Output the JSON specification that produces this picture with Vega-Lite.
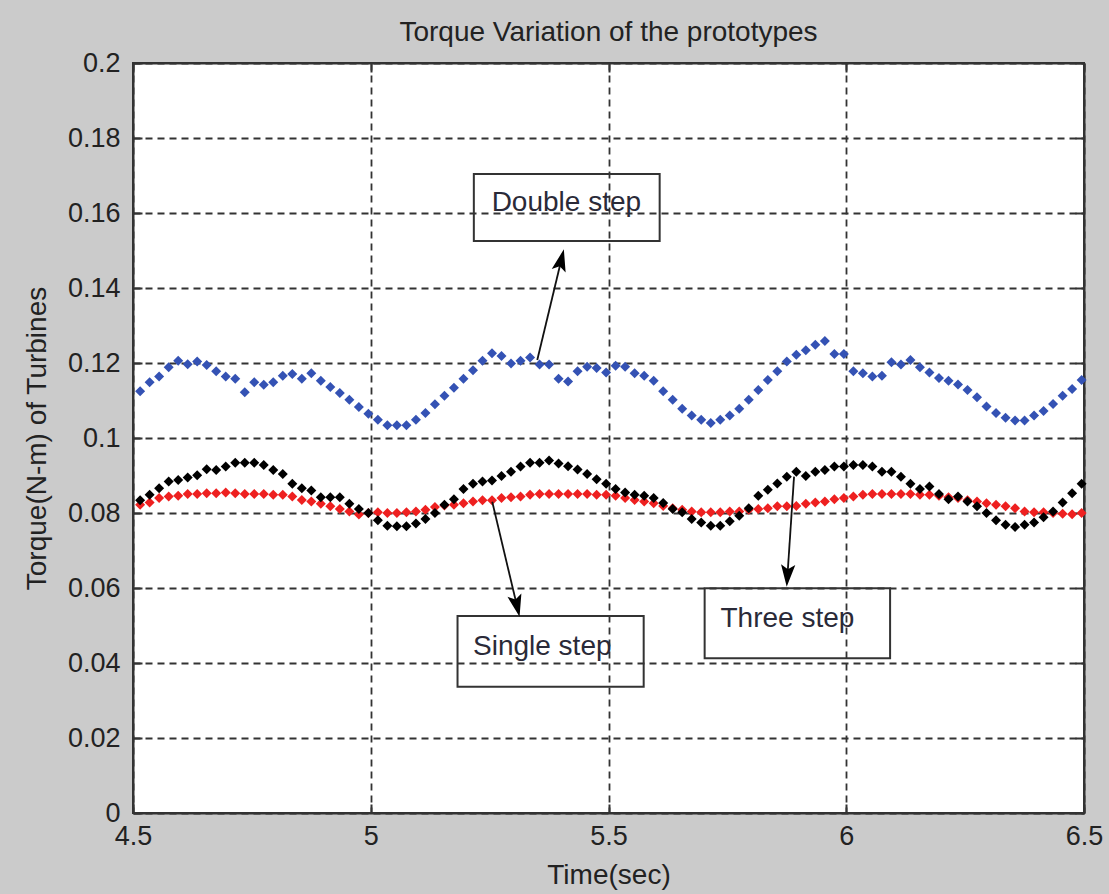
{
  "$schema": "https://vega.github.io/schema/vega-lite/v6.json",
  "width": 951,
  "height": 750,
  "autosize": {"type": "none"},
  "padding": {"left": 133, "top": 63, "right": 25, "bottom": 81},
  "background": "#cbcbcb",
  "title": {
    "text": "Torque Variation of the prototypes",
    "font": "Liberation Sans",
    "fontSize": 28,
    "fontWeight": "normal",
    "color": "#222222",
    "anchor": "middle",
    "offset": 2
  },
  "config": {
    "view": {"fill": "white", "stroke": "#333333", "strokeWidth": 2},
    "axis": {
      "labelFont": "Liberation Sans",
      "titleFont": "Liberation Sans",
      "labelColor": "#222222",
      "titleColor": "#222222",
      "titleFontWeight": "normal",
      "labelFlush": false,
      "labelOverlap": false,
      "labelBound": false,
      "tickSize": -9,
      "tickColor": "#333333",
      "tickWidth": 2,
      "domainColor": "#333333",
      "domainWidth": 2,
      "gridColor": "#333333",
      "gridDash": [7, 5],
      "gridWidth": 1.8,
      "gridOpacity": 1
    }
  },
  "datasets": {
    "torque": [
      {"t": 4.515, "s": 0.0822, "d": 0.1125, "th": 0.0834},
      {"t": 4.535, "s": 0.0828, "d": 0.1149, "th": 0.0849},
      {"t": 4.555, "s": 0.0840, "d": 0.1164, "th": 0.0866},
      {"t": 4.575, "s": 0.0844, "d": 0.1189, "th": 0.0884},
      {"t": 4.595, "s": 0.0846, "d": 0.1206, "th": 0.0888},
      {"t": 4.615, "s": 0.0851, "d": 0.1197, "th": 0.0895},
      {"t": 4.635, "s": 0.0851, "d": 0.1204, "th": 0.0901},
      {"t": 4.655, "s": 0.0853, "d": 0.1195, "th": 0.0917},
      {"t": 4.675, "s": 0.0853, "d": 0.1178, "th": 0.0915},
      {"t": 4.695, "s": 0.0855, "d": 0.1164, "th": 0.0924},
      {"t": 4.715, "s": 0.0853, "d": 0.1158, "th": 0.0934},
      {"t": 4.735, "s": 0.0851, "d": 0.1122, "th": 0.0934},
      {"t": 4.755, "s": 0.0851, "d": 0.1149, "th": 0.0934},
      {"t": 4.775, "s": 0.0851, "d": 0.1142, "th": 0.0928},
      {"t": 4.795, "s": 0.0849, "d": 0.1149, "th": 0.0915},
      {"t": 4.815, "s": 0.0849, "d": 0.1166, "th": 0.0904},
      {"t": 4.835, "s": 0.0844, "d": 0.1171, "th": 0.0878},
      {"t": 4.855, "s": 0.0835, "d": 0.1158, "th": 0.0866},
      {"t": 4.875, "s": 0.0831, "d": 0.1173, "th": 0.0860},
      {"t": 4.895, "s": 0.0825, "d": 0.1153, "th": 0.0842},
      {"t": 4.915, "s": 0.0818, "d": 0.1136, "th": 0.0842},
      {"t": 4.935, "s": 0.0811, "d": 0.1120, "th": 0.0842},
      {"t": 4.955, "s": 0.0804, "d": 0.1102, "th": 0.0825},
      {"t": 4.975, "s": 0.0796, "d": 0.1083, "th": 0.0811},
      {"t": 4.995, "s": 0.0800, "d": 0.1065, "th": 0.0800},
      {"t": 5.015, "s": 0.0802, "d": 0.1049, "th": 0.0781},
      {"t": 5.035, "s": 0.0800, "d": 0.1034, "th": 0.0766},
      {"t": 5.055, "s": 0.0800, "d": 0.1034, "th": 0.0765},
      {"t": 5.075, "s": 0.0802, "d": 0.1034, "th": 0.0765},
      {"t": 5.095, "s": 0.0804, "d": 0.1049, "th": 0.0772},
      {"t": 5.115, "s": 0.0809, "d": 0.1067, "th": 0.0784},
      {"t": 5.135, "s": 0.0816, "d": 0.1090, "th": 0.0800},
      {"t": 5.155, "s": 0.0820, "d": 0.1113, "th": 0.0822},
      {"t": 5.175, "s": 0.0822, "d": 0.1134, "th": 0.0837},
      {"t": 5.195, "s": 0.0826, "d": 0.1158, "th": 0.0864},
      {"t": 5.215, "s": 0.0831, "d": 0.1181, "th": 0.0878},
      {"t": 5.235, "s": 0.0834, "d": 0.1206, "th": 0.0884},
      {"t": 5.255, "s": 0.0834, "d": 0.1226, "th": 0.0887},
      {"t": 5.275, "s": 0.0840, "d": 0.1219, "th": 0.0899},
      {"t": 5.295, "s": 0.0842, "d": 0.1199, "th": 0.0910},
      {"t": 5.315, "s": 0.0844, "d": 0.1206, "th": 0.0924},
      {"t": 5.335, "s": 0.0849, "d": 0.1215, "th": 0.0934},
      {"t": 5.355, "s": 0.0851, "d": 0.1196, "th": 0.0934},
      {"t": 5.375, "s": 0.0851, "d": 0.1196, "th": 0.0940},
      {"t": 5.395, "s": 0.0851, "d": 0.1158, "th": 0.0932},
      {"t": 5.415, "s": 0.0851, "d": 0.1151, "th": 0.0925},
      {"t": 5.435, "s": 0.0851, "d": 0.1178, "th": 0.0916},
      {"t": 5.455, "s": 0.0851, "d": 0.1190, "th": 0.0904},
      {"t": 5.475, "s": 0.0849, "d": 0.1187, "th": 0.0890},
      {"t": 5.495, "s": 0.0849, "d": 0.1175, "th": 0.0878},
      {"t": 5.515, "s": 0.0846, "d": 0.1193, "th": 0.0864},
      {"t": 5.535, "s": 0.0840, "d": 0.1190, "th": 0.0855},
      {"t": 5.555, "s": 0.0835, "d": 0.1173, "th": 0.0849},
      {"t": 5.575, "s": 0.0831, "d": 0.1166, "th": 0.0846},
      {"t": 5.595, "s": 0.0826, "d": 0.1153, "th": 0.0840},
      {"t": 5.615, "s": 0.0819, "d": 0.1125, "th": 0.0827},
      {"t": 5.635, "s": 0.0813, "d": 0.1102, "th": 0.0811},
      {"t": 5.655, "s": 0.0809, "d": 0.1078, "th": 0.0802},
      {"t": 5.675, "s": 0.0804, "d": 0.1060, "th": 0.0784},
      {"t": 5.695, "s": 0.0802, "d": 0.1049, "th": 0.0775},
      {"t": 5.715, "s": 0.0802, "d": 0.1040, "th": 0.0766},
      {"t": 5.735, "s": 0.0802, "d": 0.1049, "th": 0.0766},
      {"t": 5.755, "s": 0.0804, "d": 0.1060, "th": 0.0778},
      {"t": 5.775, "s": 0.0804, "d": 0.1078, "th": 0.0793},
      {"t": 5.795, "s": 0.0809, "d": 0.1102, "th": 0.0813},
      {"t": 5.815, "s": 0.0811, "d": 0.1128, "th": 0.0846},
      {"t": 5.835, "s": 0.0813, "d": 0.1155, "th": 0.0862},
      {"t": 5.855, "s": 0.0818, "d": 0.1178, "th": 0.0879},
      {"t": 5.875, "s": 0.0818, "d": 0.1204, "th": 0.0897},
      {"t": 5.895, "s": 0.0819, "d": 0.1222, "th": 0.0910},
      {"t": 5.915, "s": 0.0825, "d": 0.1234, "th": 0.0899},
      {"t": 5.935, "s": 0.0828, "d": 0.1249, "th": 0.0910},
      {"t": 5.955, "s": 0.0831, "d": 0.1259, "th": 0.0915},
      {"t": 5.975, "s": 0.0837, "d": 0.1224, "th": 0.0924},
      {"t": 5.995, "s": 0.0840, "d": 0.1224, "th": 0.0924},
      {"t": 6.015, "s": 0.0844, "d": 0.1178, "th": 0.0928},
      {"t": 6.035, "s": 0.0849, "d": 0.1173, "th": 0.0928},
      {"t": 6.055, "s": 0.0851, "d": 0.1164, "th": 0.0924},
      {"t": 6.075, "s": 0.0851, "d": 0.1166, "th": 0.0910},
      {"t": 6.095, "s": 0.0851, "d": 0.1202, "th": 0.0910},
      {"t": 6.115, "s": 0.0851, "d": 0.1196, "th": 0.0897},
      {"t": 6.135, "s": 0.0851, "d": 0.1208, "th": 0.0878},
      {"t": 6.155, "s": 0.0849, "d": 0.1189, "th": 0.0864},
      {"t": 6.175, "s": 0.0849, "d": 0.1175, "th": 0.0871},
      {"t": 6.195, "s": 0.0846, "d": 0.1160, "th": 0.0851},
      {"t": 6.215, "s": 0.0842, "d": 0.1153, "th": 0.0837},
      {"t": 6.235, "s": 0.0840, "d": 0.1143, "th": 0.0844},
      {"t": 6.255, "s": 0.0834, "d": 0.1128, "th": 0.0831},
      {"t": 6.275, "s": 0.0831, "d": 0.1109, "th": 0.0818},
      {"t": 6.295, "s": 0.0826, "d": 0.1084, "th": 0.0800},
      {"t": 6.315, "s": 0.0822, "d": 0.1067, "th": 0.0781},
      {"t": 6.335, "s": 0.0818, "d": 0.1054, "th": 0.0769},
      {"t": 6.355, "s": 0.0813, "d": 0.1047, "th": 0.0763},
      {"t": 6.375, "s": 0.0804, "d": 0.1047, "th": 0.0769},
      {"t": 6.395, "s": 0.0802, "d": 0.1060, "th": 0.0775},
      {"t": 6.415, "s": 0.0802, "d": 0.1072, "th": 0.0789},
      {"t": 6.435, "s": 0.0800, "d": 0.1091, "th": 0.0804},
      {"t": 6.455, "s": 0.0798, "d": 0.1113, "th": 0.0828},
      {"t": 6.475, "s": 0.0797, "d": 0.1131, "th": 0.0853},
      {"t": 6.495, "s": 0.0800, "d": 0.1155, "th": 0.0878}
    ],
    "boxes": [
      {"label": "Double step", "t1": 5.2168, "t2": 5.6076, "y1": 0.1704, "y2": 0.15253, "tx": 5.4114, "ty": 0.16053},
      {"label": "Single step", "t1": 5.1825, "t2": 5.5740, "y1": 0.05253, "y2": 0.03368, "tx": 5.3607, "ty": 0.04213},
      {"label": "Three step", "t1": 5.7022, "t2": 6.0922, "y1": 0.05992, "y2": 0.04125, "tx": 5.8763, "ty": 0.04968}
    ],
    "arrows": [
      {"name": "Double", "x1": 5.3502, "y1": 0.1208, "x2": 5.3997, "y2": 0.14695},
      {"name": "Single", "x1": 5.2555, "y1": 0.0830, "x2": 5.3066, "y2": 0.05572},
      {"name": "Three", "x1": 5.8902, "y1": 0.0897, "x2": 5.8766, "y2": 0.06381}
    ]
  },
  "resolve": {"axis": {"x": "independent", "y": "independent"}},
  "layer": [
    {
      "data": {"name": "torque"},
      "transform": [{"fold": ["s", "d", "th"], "as": ["series", "v"]}],
      "mark": {"type": "point", "shape": "diamond", "filled": true, "opacity": 1, "size": 100},
      "encoding": {
        "x": {
          "field": "t", "type": "quantitative",
          "scale": {"domain": [4.5, 6.5], "nice": false, "zero": false},
          "axis": {
            "orient": "bottom", "values": [4.5, 5, 5.5, 6, 6.5], "format": "~g",
            "grid": true, "labelFontSize": 27, "labelPadding": 19,
            "title": "Time(sec)", "titleFontSize": 28, "titlePadding": 12
          }
        },
        "y": {
          "field": "v", "type": "quantitative",
          "scale": {"domain": [0, 0.2], "nice": false, "zero": false},
          "axis": {
            "orient": "left",
            "values": [0, 0.02, 0.04, 0.06, 0.08, 0.1, 0.12, 0.14, 0.16, 0.18, 0.2],
            "format": "~g", "grid": true, "labelFontSize": 27, "labelPadding": 22,
            "title": "Torque(N-m) of Turbines", "titleFontSize": 28, "titlePadding": 16
          }
        },
        "color": {
          "field": "series", "type": "nominal",
          "scale": {"domain": ["s", "d", "th"], "range": ["#ee2020", "#3452b4", "#000000"]},
          "legend": null
        }
      }
    },
    {
      "data": {"name": "boxes"},
      "mark": {"type": "rect", "fill": null, "fillOpacity": 0, "stroke": "#333333", "strokeWidth": 2},
      "encoding": {
        "x": {
          "field": "t1", "type": "quantitative",
          "scale": {"domain": [4.5, 6.5], "nice": false, "zero": false},
          "axis": {"orient": "top", "values": [4.5, 5, 5.5, 6, 6.5], "labels": false, "grid": false, "title": null}
        },
        "x2": {"field": "t2"},
        "y": {
          "field": "y1", "type": "quantitative",
          "scale": {"domain": [0, 0.2], "nice": false, "zero": false},
          "axis": {"orient": "right", "values": [0, 0.02, 0.04, 0.06, 0.08, 0.1, 0.12, 0.14, 0.16, 0.18, 0.2], "labels": false, "grid": false, "title": null}
        },
        "y2": {"field": "y2"}
      }
    },
    {
      "data": {"name": "boxes"},
      "mark": {"type": "text", "font": "Liberation Sans", "fontSize": 28, "align": "center", "baseline": "alphabetic", "color": "#2a2a38"},
      "encoding": {
        "x": {"field": "tx", "type": "quantitative", "scale": {"domain": [4.5, 6.5], "nice": false, "zero": false}, "axis": null},
        "y": {"field": "ty", "type": "quantitative", "scale": {"domain": [0, 0.2], "nice": false, "zero": false}, "axis": null},
        "text": {"field": "label"}
      }
    },
    {
      "data": {"name": "arrows"},
      "mark": {"type": "rule", "color": "#111111", "strokeWidth": 1.8},
      "encoding": {
        "x": {"field": "x1", "type": "quantitative", "scale": {"domain": [4.5, 6.5], "nice": false, "zero": false}, "axis": null},
        "y": {"field": "y1", "type": "quantitative", "scale": {"domain": [0, 0.2], "nice": false, "zero": false}, "axis": null},
        "x2": {"field": "x2"},
        "y2": {"field": "y2"}
      }
    },
    {
      "data": {"name": "arrows"},
      "transform": [{"filter": "datum.name === 'Double'"}],
      "mark": {"type": "point", "shape": "M0,-1L0.55,0.7L0,0.35L-0.55,0.7Z", "filled": true, "color": "#000000", "opacity": 1, "size": 676, "angle": 13.5},
      "encoding": {
        "x": {"field": "x2", "type": "quantitative", "scale": {"domain": [4.5, 6.5], "nice": false, "zero": false}, "axis": null},
        "y": {"field": "y2", "type": "quantitative", "scale": {"domain": [0, 0.2], "nice": false, "zero": false}, "axis": null}
      }
    },
    {
      "data": {"name": "arrows"},
      "transform": [{"filter": "datum.name === 'Single'"}],
      "mark": {"type": "point", "shape": "M0,-1L0.55,0.7L0,0.35L-0.55,0.7Z", "filled": true, "color": "#000000", "opacity": 1, "size": 676, "angle": 166.6},
      "encoding": {
        "x": {"field": "x2", "type": "quantitative", "scale": {"domain": [4.5, 6.5], "nice": false, "zero": false}, "axis": null},
        "y": {"field": "y2", "type": "quantitative", "scale": {"domain": [0, 0.2], "nice": false, "zero": false}, "axis": null}
      }
    },
    {
      "data": {"name": "arrows"},
      "transform": [{"filter": "datum.name === 'Three'"}],
      "mark": {"type": "point", "shape": "M0,-1L0.55,0.7L0,0.35L-0.55,0.7Z", "filled": true, "color": "#000000", "opacity": 1, "size": 676, "angle": 183.8},
      "encoding": {
        "x": {"field": "x2", "type": "quantitative", "scale": {"domain": [4.5, 6.5], "nice": false, "zero": false}, "axis": null},
        "y": {"field": "y2", "type": "quantitative", "scale": {"domain": [0, 0.2], "nice": false, "zero": false}, "axis": null}
      }
    }
  ]
}
